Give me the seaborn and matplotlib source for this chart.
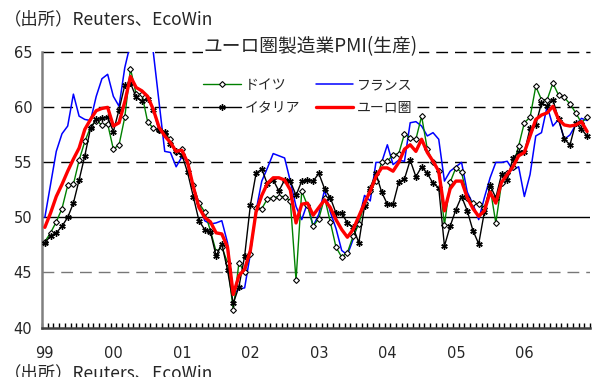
import numpy as np
import pandas as pd
import matplotlib
matplotlib.use("Agg")
import matplotlib.pyplot as plt
import seaborn as sns
from matplotlib.lines import Line2D

# ---- data (monthly, Jan 1999 - Dec 2006) ----
year_labels = ["99", "00", "01", "02", "03", "04", "05", "06"]

germany = [
    47.8, 48.6, 49.6, 50.8, 52.9, 53.0, 55.2, 56.9, 58.2, 58.8, 58.4, 58.5,
    56.2, 56.6, 59.1, 63.5, 61.2, 61.2, 58.7, 58.1, 57.9, 57.6, 57.1, 55.9,
    56.2, 55.0, 52.9, 51.3, 50.5, 48.8, 46.9, 47.3, 45.9, 41.6, 45.9, 45.0,
    46.7, 50.9, 50.8, 51.7, 51.8, 51.9, 51.9, 51.5, 44.3, 52.4, 51.1, 49.2,
    49.9, 51.8, 49.6, 47.3, 46.4, 46.8, 48.3, 49.4, 51.3, 52.4, 53.3, 55.0,
    55.1, 55.7, 55.8, 57.6, 57.2, 57.1, 59.2, 56.2, 55.0, 54.2, 49.3, 53.2,
    54.5, 54.1, 51.8, 51.3, 51.2, 50.9, 52.7, 49.5, 53.1, 54.0, 54.6, 56.5,
    58.6, 59.1, 61.9, 60.7, 60.7, 62.2, 61.1, 60.9, 60.3, 59.5, 58.6, 59.1]

france = [
    50.0, 53.0, 56.0, 57.6, 58.3, 61.2, 59.2, 58.9, 58.8, 61.0, 62.6, 63.0,
    61.0, 60.1, 63.6, 65.8, 66.5, 66.8, 66.5, 65.0, 60.5, 56.0, 55.9, 54.6,
    55.5, 55.1, 52.8, 51.3, 49.7, 49.4, 49.5, 49.7, 47.7, 43.0, 43.5, 43.6,
    46.7, 50.6, 53.3, 54.5, 55.8, 55.6, 55.4, 53.3, 51.0, 49.8, 51.3, 49.2,
    50.3, 52.5, 50.5, 49.0, 47.0, 46.6, 48.0, 49.8, 52.0, 51.5, 55.0, 55.0,
    56.6, 54.8, 55.2, 55.1, 58.6, 58.7, 58.3, 57.4, 57.7, 57.1, 53.3, 54.2,
    54.6, 55.0, 52.3, 51.2, 49.8, 51.8, 53.6, 55.0, 55.0, 55.1, 54.3, 54.6,
    51.9, 53.9, 57.4, 57.7, 60.1, 58.3, 58.9, 57.1, 57.5, 58.4, 59.0, 58.8]

italy = [
    47.7, 48.3, 48.6, 49.2, 50.0, 51.3, 53.4, 55.6, 58.1, 58.9, 59.0, 59.1,
    57.8, 59.8, 62.0, 62.2, 60.9, 60.6, 60.8, 59.8, 57.9, 57.8, 56.7, 56.0,
    55.7, 54.1, 51.9, 49.7, 48.9, 48.7, 46.5, 47.6, 45.2, 42.2, 43.7, 46.5,
    51.1, 54.0, 54.4, 53.0, 53.4, 52.4, 53.4, 53.3, 52.0, 53.3, 53.4, 53.3,
    54.0, 52.6, 51.8, 50.4, 50.4, 49.5, 49.1, 47.7, 51.0, 52.7, 54.0, 52.3,
    51.2, 51.2, 53.2, 53.5, 55.2, 53.7, 54.6, 54.0, 53.1, 52.7, 47.4, 49.2,
    50.7, 51.9, 50.6, 48.8, 47.6, 50.5, 52.9, 51.8, 53.9, 53.4, 55.4, 55.9,
    55.9, 58.1, 58.4, 60.4, 60.1, 60.7, 58.9, 57.1, 56.6, 58.6, 58.0, 57.4]

euro = [
    49.1, 50.4, 51.9, 53.0, 54.2, 55.3, 56.3, 58.0, 58.9, 59.7, 59.9, 60.0,
    58.3, 58.6, 60.5, 62.8, 61.8, 61.5, 61.0, 59.8, 58.2, 57.4, 56.8, 56.0,
    56.1, 55.0, 52.8, 50.9, 50.0, 49.6, 48.6, 48.5, 47.3, 43.0, 44.7, 45.3,
    47.0, 50.5, 52.0, 53.1, 53.6, 53.6, 53.4, 52.5, 49.5, 51.2, 51.3, 50.2,
    50.9, 51.6, 50.9, 49.8, 48.9, 48.2, 48.9, 50.1, 51.3, 52.4, 53.7, 54.5,
    54.5, 54.2, 55.0, 56.2, 56.6, 56.0, 57.1, 55.9, 55.1, 54.2, 50.6, 52.6,
    53.3, 53.3, 51.8, 50.8, 50.1, 50.6, 52.3, 51.3, 53.2, 53.9, 54.6, 55.6,
    55.9, 57.4, 58.9, 59.3, 59.5, 60.1, 58.9, 58.4, 58.3, 58.4, 58.7, 57.8]

series_names = ["ドイツ", "フランス", "イタリア", "ユーロ圏"]

months = np.arange(len(euro))
df = pd.DataFrame({"m": months, "de": germany, "fr": france, "it": italy, "eu": euro})

# ---- style ----
sns.set_style("white")
plt.rcParams["font.family"] = ["Noto Sans CJK JP", "DejaVu Sans"]

W, H = 593, 377
fig = plt.figure(figsize=(W / 100, H / 100), dpi=100)
left, right, top, bottom = 42, 590, 52.3, 327.5
ax = fig.add_axes([left / W, 1 - bottom / H, (right - left) / W, (bottom - top) / H])

# grid lines
dash = (0, (8.5, 5))
for v in [55, 60, 65]:
    ax.axhline(v, color="black", lw=1.0, ls=dash, zorder=1, clip_on=False)
ax.axhline(45, color="#777777", lw=1.0, ls=dash, zorder=1)
ax.axhline(50, color="black", lw=1.0, zorder=1)

de_kw = dict(color="#008000", lw=1.0, marker="D", markersize=3.0,
             markerfacecolor="white", markeredgecolor="black", markeredgewidth=0.8)
fr_kw = dict(color="#0000FF", lw=1.1)
it_kw = dict(color="black", lw=1.0, marker=(6, 2, 0), markersize=4.6,
             markeredgecolor="black", markeredgewidth=1.0)
eu_kw = dict(color="#FF0000", lw=2.4)

sns.lineplot(data=df, x="m", y="de", ax=ax, zorder=3, **de_kw)
sns.lineplot(data=df, x="m", y="fr", ax=ax, zorder=2, **fr_kw)
sns.lineplot(data=df, x="m", y="it", ax=ax, zorder=4, **it_kw)
sns.lineplot(data=df, x="m", y="eu", ax=ax, zorder=5, **eu_kw)

ax.set_xlim(-0.5, len(euro) - 0.5)
ax.set_ylim(40, 65)
ax.set_xlabel("")
ax.set_ylabel("")

ax.set_yticks([40, 45, 50, 55, 60, 65])
ax.set_yticklabels(["40", "45", "50", "55", "60", "65"], family="DejaVu Sans", fontsize=10.5)
ax.tick_params(axis="y", length=0, pad=7)

ax.set_xticks(np.arange(0, len(euro), 12))
ax.set_xticklabels(year_labels, family="DejaVu Sans", fontsize=10.5)
ax.set_xticks(np.arange(-0.5, len(euro), 1), minor=True)
ax.tick_params(axis="x", which="major", length=0, pad=13)
ax.tick_params(axis="x", which="minor", direction="in", length=3.3, width=1.0,
               color="black", bottom=True)

for s in ["top", "right"]:
    ax.spines[s].set_visible(False)
ax.spines["left"].set_color("#808080")
ax.spines["left"].set_linewidth(1.8)
ax.spines["bottom"].set_color("#404040")
ax.spines["bottom"].set_linewidth(1.8)

# legend (two columns, row-wise order), white background without border
h_de = Line2D([], [], **de_kw)
h_fr = Line2D([], [], **fr_kw)
h_it = Line2D([], [], **it_kw)
h_eu = Line2D([], [], **eu_kw)
leg = ax.legend(handles=[h_de, h_it, h_fr, h_eu],
                labels=[series_names[0], series_names[2], series_names[1], series_names[3]],
                ncol=2, frameon=True, fancybox=False, loc="upper left",
                facecolor="white", edgecolor="none", framealpha=1.0,
                bbox_to_anchor=(199 / W, 1 - 74 / H), bbox_transform=fig.transFigure,
                fontsize=10, handlelength=2.7, handletextpad=0.3, columnspacing=1.1,
                labelspacing=0.62, borderpad=0.3, borderaxespad=0)
leg.set_zorder(8)

# texts
fig.text(4 / W, 1 - 19 / H, "（出所）Reuters、EcoWin", fontsize=12.5,
         ha="left", va="center")
fig.text(311 / W, 1 - 47 / H, "ユーロ圏製造業PMI(生産)", fontsize=13.5,
         ha="center", va="center",
         bbox=dict(facecolor="white", edgecolor="none", pad=0.5), zorder=10)
fig.text(4 / W, 1 - 373 / H, "（出所）Reuters、EcoWin", fontsize=12.5,
         ha="left", va="center")

fig.savefig("out.png", dpi=100)
